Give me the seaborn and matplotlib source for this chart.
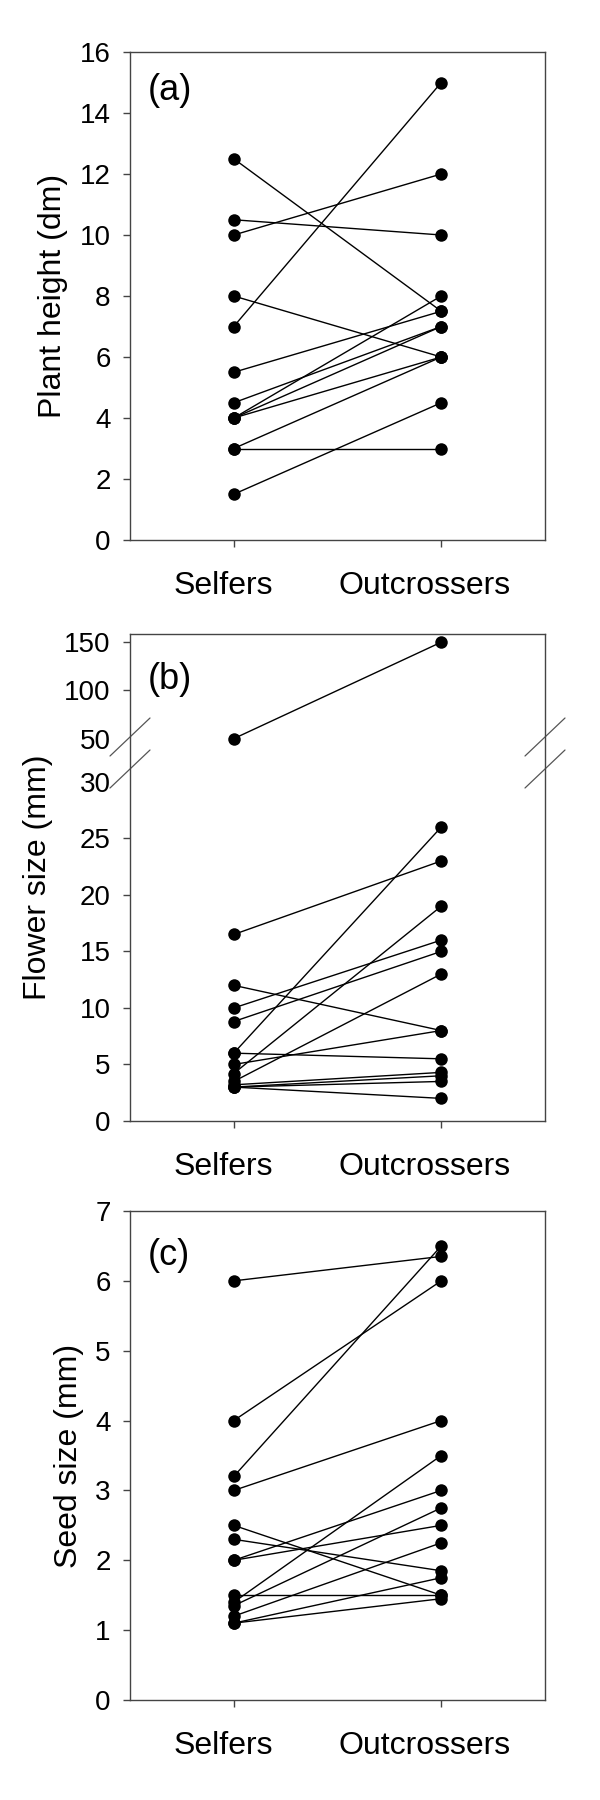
import numpy as np
import pandas as pd
import matplotlib
matplotlib.use("Agg")
import matplotlib.pyplot as plt
import matplotlib.transforms as mtransforms
import seaborn as sns

# ---------------- data ----------------
categories = ["Selfers", "Outcrossers"]

height_selfers = [12.5, 10.5, 10, 8, 7, 5.5, 4.5, 4, 4, 4, 3, 3, 1.5]
height_outcrossers = [7.5, 10, 12, 6, 15, 7.5, 7, 8, 7, 6, 6, 3, 4.5]

flower_selfers = [50, 16.5, 12, 10, 8.8, 6, 6, 5, 4.2, 3.5, 3.2, 3, 3, 3]
flower_outcrossers = [150, 23, 8, 16, 15, 26, 5.5, 8, 19, 13, 4.3, 4, 3.5, 2]

seed_selfers = [6, 4, 3.2, 3, 2.5, 2.3, 2, 2, 1.5, 1.4, 1.35, 1.2, 1.1, 1.1]
seed_outcrossers = [6.35, 6, 6.5, 4, 1.5, 1.85, 3, 2.5, 1.5, 3.5, 2.75, 2.25, 1.75, 1.45]

height_ticks = [0, 2, 4, 6, 8, 10, 12, 14, 16]
flower_ticks = [0, 5, 10, 15, 20, 25, 30, 50, 100, 150]
seed_ticks = [0, 1, 2, 3, 4, 5, 6, 7]

ylabels = ["Plant height (dm)", "Flower size (mm)", "Seed size (mm)"]
panel_tags = ["(a)", "(b)", "(c)"]

# ---------------- style ----------------
sns.set_style("ticks")
plt.rcParams["font.family"] = ["Liberation Sans", "DejaVu Sans"]
plt.rcParams["text.color"] = "black"
plt.rcParams["axes.labelcolor"] = "black"
plt.rcParams["xtick.labelcolor"] = "black"
plt.rcParams["ytick.labelcolor"] = "black"

SPINE = "#444444"


def long_df(selfers, outcrossers):
    rows = []
    for i, (s, o) in enumerate(zip(selfers, outcrossers)):
        rows.append({"pair": i, "group": categories[0], "value": s})
        rows.append({"pair": i, "group": categories[1], "value": o})
    df = pd.DataFrame(rows)
    df["pos"] = df["group"].map({c: k for k, c in enumerate(categories)})
    return df


# broken-axis scale for flower size: 0-30 linear, gap 30-50, compressed above 50
LOW_TOP = 30.0
GAP_UNITS = 3.82
HI_K = 0.0853


def fwd(v):
    v = np.asarray(v, dtype=float)
    return np.where(
        v <= LOW_TOP, v,
        np.where(v <= 50, LOW_TOP + (v - LOW_TOP) * GAP_UNITS / 20.0,
                 LOW_TOP + GAP_UNITS + (v - 50) * HI_K))


def inv(t):
    t = np.asarray(t, dtype=float)
    return np.where(
        t <= LOW_TOP, t,
        np.where(t <= LOW_TOP + GAP_UNITS, LOW_TOP + (t - LOW_TOP) * 20.0 / GAP_UNITS,
                 50 + (t - LOW_TOP - GAP_UNITS) / HI_K))


fig = plt.figure(figsize=(6, 18), dpi=100)
left, width = 130 / 600, 415 / 600
boxes = [(540, 488), (1121, 487), (1700, 489)]
panels = [
    (height_selfers, height_outcrossers, height_ticks, (0, 16)),
    (flower_selfers, flower_outcrossers, flower_ticks, (0, 158.5)),
    (seed_selfers, seed_outcrossers, seed_ticks, (0, 7)),
]
tag_y = [0.922, 0.906, 0.91]
xlabel_shift_px = [-10, -17]

for k, ((s, o, ticks, ylim), (bot_px, h_px)) in enumerate(zip(panels, boxes)):
    ax = fig.add_axes([left, 1 - bot_px / 1800, width, h_px / 1800])
    if k == 1:
        ax.set_yscale("function", functions=(fwd, inv))
    df = long_df(s, o)
    sns.lineplot(data=df, x="pos", y="value", units="pair", estimator=None,
                 color="black", linewidth=1.0, marker="o", markersize=9,
                 markeredgewidth=0, markerfacecolor="black", sort=False,
                 legend=False, ax=ax)
    ax.set_xlim(-0.5, 1.5)
    ax.set_ylim(*ylim)
    ax.set_xticks(range(len(categories)))
    ax.set_xticklabels(categories)
    ax.set_yticks(ticks)
    ax.set_yticklabels([str(t) for t in ticks])
    ax.set_xlabel("")
    ax.set_ylabel(ylabels[k], fontsize=23, labelpad=8, color="black")
    for sp in ax.spines.values():
        sp.set_visible(True)
        sp.set_color(SPINE)
        sp.set_linewidth(1.0)
    ax.tick_params(axis="both", direction="out", length=5, width=1.0, color=SPINE,
                   labelcolor="black")
    ax.tick_params(axis="y", labelsize=20, pad=9)
    ax.tick_params(axis="x", labelsize=23, pad=17)
    for lab, sh in zip(ax.get_xticklabels(), xlabel_shift_px):
        lab.set_transform(lab.get_transform() +
                          mtransforms.ScaledTranslation(sh / 100, 0, fig.dpi_scale_trans))
    ax.text(0.043, tag_y[k], panel_tags[k], transform=ax.transAxes,
            fontsize=26, ha="left", va="center", color="black")

    if k == 1:
        # hide tick marks at the break
        for t in ax.yaxis.get_major_ticks():
            if t.get_loc() in (30, 50):
                t.tick1line.set_visible(False)
        # break marks on both vertical spines
        dx, dy = 20 / 415, 19 / 487
        for yc in ((1121 - 737) / 487, (1121 - 769) / 487):
            for xc in (0.0, 1.0):
                ax.plot([xc - dx, xc + dx], [yc - dy, yc + dy], color="#555555",
                        lw=0.9, transform=ax.transAxes, clip_on=False)

fig.savefig("out.png", dpi=100)
